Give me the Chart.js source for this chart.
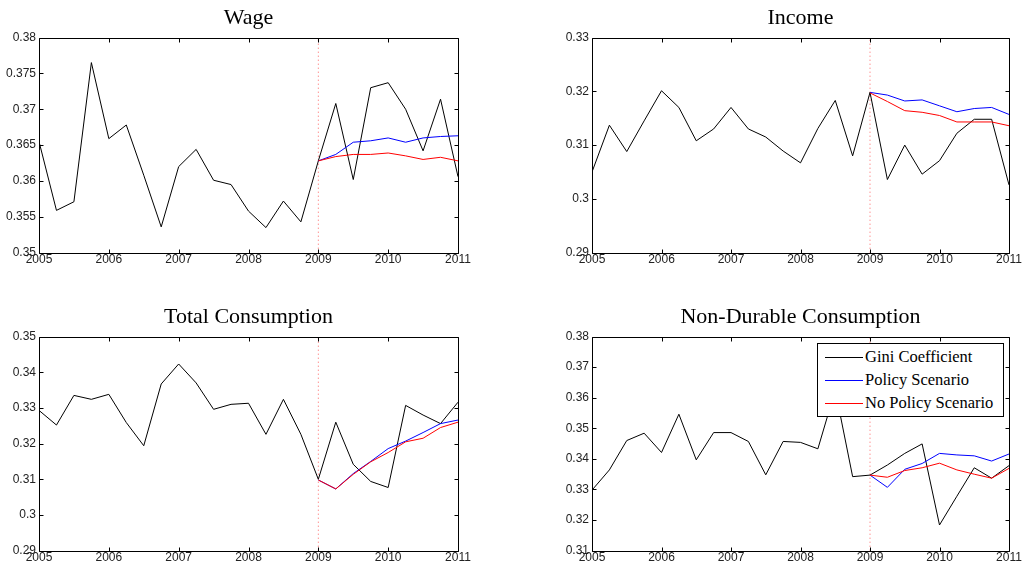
<!DOCTYPE html>
<html>
<head>
<meta charset="utf-8">
<script src="https://cdn.jsdelivr.net/npm/chart.js@4/dist/chart.umd.min.js"></script>
<style>
	body { margin: 0; background: #fff; width: 1022px; height: 573px; position: relative; overflow: hidden; }
	canvas { position: absolute; }
	#legend { position: absolute; left: 817px; top: 343px; width: 185px; height: 72px; border: 1px solid #000; background: #fff;
		font-family: 'Liberation Serif', serif; font-size: 16.5px; color: #000; }
	#legend div { position: absolute; left: 47px; height: 20px; line-height: 20px; white-space: nowrap; }
	#legend span { position: absolute; left: 7px; width: 38px; height: 0; border-top: 1px solid; }
</style>
</head>
<body>
<canvas id="WageChart" width="480" height="280" style="left:0;top:0"></canvas>
<canvas id="IncomeChart" width="472" height="280" style="left:550px;top:0"></canvas>
<canvas id="TotalChart" width="480" height="274" style="left:0;top:299px"></canvas>
<canvas id="NonDurChart" width="472" height="274" style="left:550px;top:299px"></canvas>
<div id="legend">
	<span style="top:13px;border-color:#000"></span><div style="top:3px">Gini Coefficient</div>
	<span style="top:36px;border-color:#0000ff"></span><div style="top:26px">Policy Scenario</div>
	<span style="top:59px;border-color:#ff0000"></span><div style="top:49px">No Policy Scenario</div>
</div>
<script>
	// quarterly dates, 2005Q1 .. 2011Q1
	var quarters = [2005, 2005.25, 2005.5, 2005.75, 2006, 2006.25, 2006.5, 2006.75, 2007, 2007.25, 2007.5, 2007.75,
		2008, 2008.25, 2008.5, 2008.75, 2009, 2009.25, 2009.5, 2009.75, 2010, 2010.25, 2010.5, 2010.75, 2011];
	var scenarioQuarters = [2009, 2009.25, 2009.5, 2009.75, 2010, 2010.25, 2010.5, 2010.75, 2011];
	var yearTicks = [2005, 2006, 2007, 2008, 2009, 2010, 2011];
	var policyStart = 2009;

	var wageGini = [0.3655, 0.3559, 0.3571, 0.3765, 0.3659, 0.3678, 0.3608, 0.3536, 0.3620, 0.3644, 0.3601, 0.3595,
		0.3558, 0.3535, 0.3572, 0.3543, 0.3628, 0.3708, 0.3602, 0.3730, 0.3737, 0.3700, 0.3642, 0.3714, 0.3606];
	var wagePolicy = [0.3628, 0.3637, 0.3654, 0.3656, 0.3660, 0.3654, 0.3660, 0.3662, 0.3663];
	var wageNoPolicy = [0.3628, 0.3634, 0.3637, 0.3637, 0.3639, 0.3635, 0.3630, 0.3633, 0.3628];

	var incomeGini = [0.3050, 0.3137, 0.3088, 0.3145, 0.3201, 0.3170, 0.3108, 0.3130, 0.3170, 0.3130, 0.3115, 0.3089,
		0.3067, 0.3131, 0.3183, 0.3080, 0.3198, 0.3036, 0.3100, 0.3046, 0.3071, 0.3122, 0.3148, 0.3148, 0.3026];
	var incomePolicy = [0.3198, 0.3193, 0.3182, 0.3184, 0.3173, 0.3162, 0.3168, 0.3170, 0.3157];
	var incomeNoPolicy = [0.3197, 0.3181, 0.3164, 0.3161, 0.3155, 0.3143, 0.3143, 0.3143, 0.3136];

	var totalGini = [0.3293, 0.3252, 0.3335, 0.3324, 0.3338, 0.3259, 0.3194, 0.3367, 0.3423, 0.3370, 0.3296, 0.3310,
		0.3313, 0.3226, 0.3324, 0.3226, 0.3100, 0.3260, 0.3142, 0.3094, 0.3077, 0.3307, 0.3280, 0.3256, 0.3316];
	var totalPolicy = [0.3098, 0.3073, 0.3116, 0.3150, 0.3186, 0.3207, 0.3231, 0.3256, 0.3266];
	var totalNoPolicy = [0.3098, 0.3073, 0.3114, 0.3149, 0.3175, 0.3205, 0.3215, 0.3245, 0.3260];

	var nonDurGini = [0.3298, 0.3364, 0.3460, 0.3484, 0.3421, 0.3546, 0.3397, 0.3486, 0.3486, 0.3457, 0.3348, 0.3457,
		0.3454, 0.3433, 0.3625, 0.3342, 0.3347, 0.3380, 0.3418, 0.3449, 0.3184, 0.3278, 0.3371, 0.3337, 0.3378];
	var nonDurPolicy = [0.3347, 0.3307, 0.3366, 0.3385, 0.3418, 0.3413, 0.3410, 0.3393, 0.3416];
	var nonDurNoPolicy = [0.3347, 0.3340, 0.3362, 0.3371, 0.3386, 0.3364, 0.3350, 0.3337, 0.3369];

	function toPoints(xs, ys)
	{
		return ys.map(function (v, i) { return { x: xs[i], y: v }; });
	}

	// MATLAB style box with inward ticks on all four sides
	var boxTicks = {
		id: 'boxTicks',
		afterDraw: function (chart) {
			var ctx = chart.ctx, a = chart.chartArea, x = chart.scales.x, y = chart.scales.y;
			var L = Math.round(a.left) + 0.5, R = Math.round(a.right) + 0.5, T = Math.round(a.top) + 0.5, B = Math.round(a.bottom) + 0.5;
			ctx.save();
			ctx.strokeStyle = '#000';
			ctx.lineWidth = 1;
			ctx.beginPath();
			ctx.rect(L, T, R - L, B - T);
			x.ticks.forEach(function (t) {
				var px = Math.round(x.getPixelForValue(t.value)) + 0.5;
				ctx.moveTo(px, B); ctx.lineTo(px, B - 4);
				ctx.moveTo(px, T); ctx.lineTo(px, T + 4);
			});
			y.ticks.forEach(function (t) {
				var py = Math.round(y.getPixelForValue(t.value)) + 0.5;
				ctx.moveTo(L, py); ctx.lineTo(L + 4, py);
				ctx.moveTo(R, py); ctx.lineTo(R - 4, py);
			});
			ctx.stroke();
			ctx.restore();
		}
	};

	function makeChart(id, title, gini, policy, noPolicy, ymin, ymax, ystep, yWidth, padRight, xHeight)
	{
		var tickFont = { family: 'Liberation Sans', size: 12 };
		new Chart(document.getElementById(id), {
			type: 'line',
			data: {
				datasets: [
					{ data: toPoints([policyStart, policyStart], [ymin, ymax]), borderColor: '#ff6060', borderWidth: 1, borderDash: [1, 3], order: 4 },
					{ data: toPoints(quarters, gini), borderColor: '#000', borderWidth: 1, order: 3 },
					{ data: toPoints(scenarioQuarters, policy), borderColor: '#0000ff', borderWidth: 1, order: 2 },
					{ data: toPoints(scenarioQuarters, noPolicy), borderColor: '#ff0000', borderWidth: 1, order: 1 }
				]
			},
			options: {
				responsive: false,
				animation: false,
				devicePixelRatio: 1,
				elements: { point: { radius: 0 }, line: { tension: 0 } },
				layout: { padding: { left: 0, right: padRight, top: 0, bottom: 0 } },
				plugins: {
					legend: { display: false },
					tooltip: { enabled: false },
					title: {
						display: true, text: title, fullSize: false, color: '#000',
						font: { family: 'Liberation Serif', size: 22, weight: 'normal', lineHeight: 1.2 },
						padding: { top: 5, bottom: 6.1 }
					}
				},
				scales: {
					x: {
						type: 'linear', min: yearTicks[0], max: yearTicks[yearTicks.length - 1],
						grid: { display: false, drawTicks: false }, border: { display: false },
						afterBuildTicks: function (s) { s.ticks = yearTicks.map(function (v) { return { value: v }; }); },
						ticks: { color: '#222', font: tickFont, padding: 0, autoSkip: false, maxRotation: 0,
							callback: function (v) { return String(v); } },
						afterFit: function (s) { s.height = xHeight; s.paddingLeft = 0; s.paddingRight = 0; }
					},
					y: {
						min: ymin, max: ymax,
						grid: { display: false, drawTicks: false }, border: { display: false },
						ticks: { stepSize: ystep, color: '#222', font: tickFont, padding: 3,
							callback: function (v) { return String(+v.toFixed(3)); } },
						afterFit: function (s) { s.width = yWidth; s.paddingTop = 0; s.paddingBottom = 0; }
					}
				}
			},
			plugins: [boxTicks]
		});
	}

	makeChart('WageChart', 'Wage', wageGini, wagePolicy, wageNoPolicy, 0.35, 0.38, 0.005, 39, 22, 27.3);
	makeChart('IncomeChart', 'Income', incomeGini, incomePolicy, incomeNoPolicy, 0.29, 0.33, 0.01, 42, 13, 27.3);
	makeChart('TotalChart', 'Total Consumption', totalGini, totalPolicy, totalNoPolicy, 0.29, 0.35, 0.01, 39, 22, 22.3);
	makeChart('NonDurChart', 'Non-Durable Consumption', nonDurGini, nonDurPolicy, nonDurNoPolicy, 0.31, 0.38, 0.01, 42, 13, 22.3);
</script>
</body>
</html>
